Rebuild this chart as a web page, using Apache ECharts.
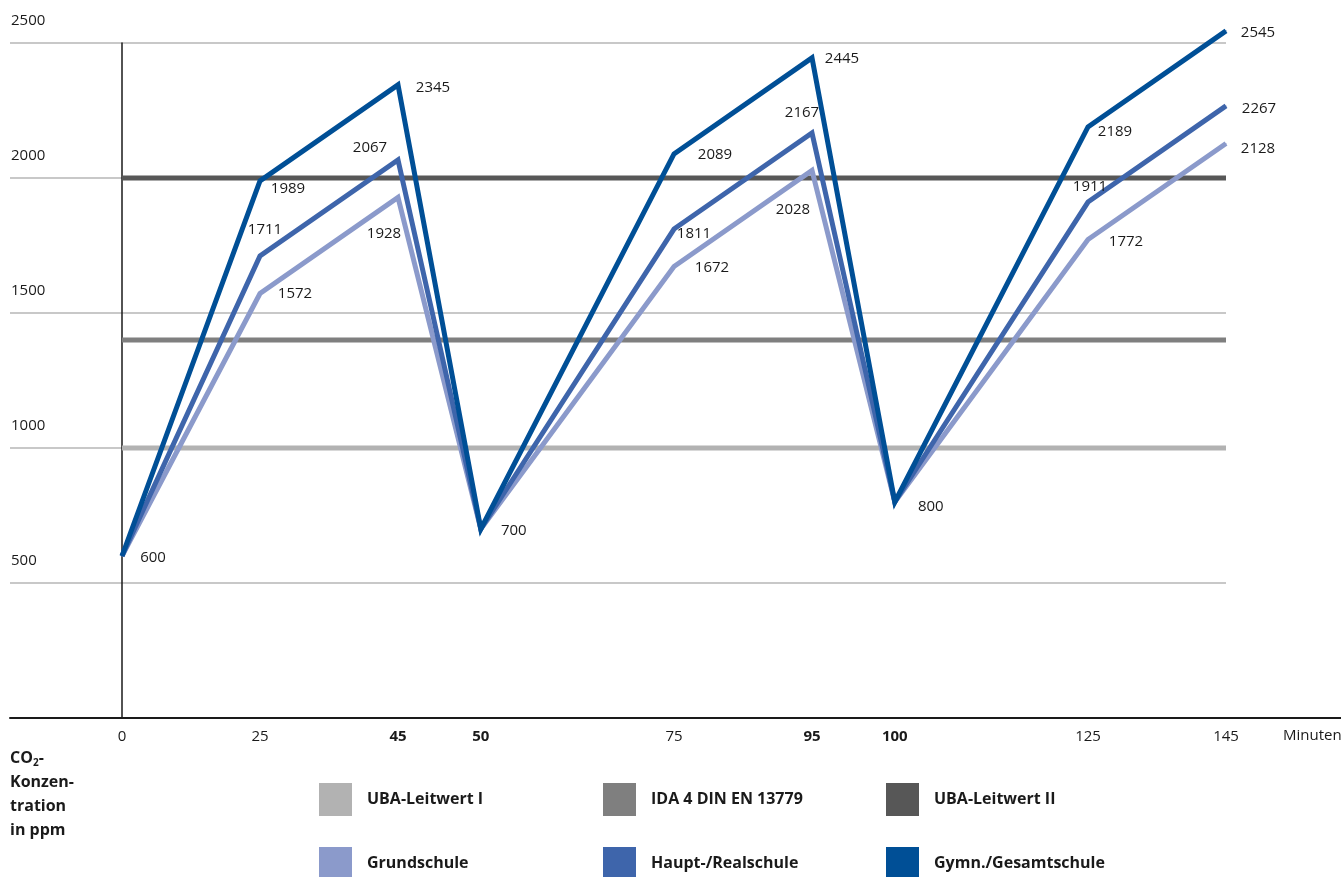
<!DOCTYPE html>
<html>
<head>
<meta charset="utf-8">
<script src="https://cdn.jsdelivr.net/npm/echarts@6/dist/echarts.min.js"></script>
<style>
html,body{margin:0;padding:0;background:#fff;}
#chart{width:1341px;height:877px;}
</style>
</head>
<body>
<div id="chart"></div>
<script>
// ---------- DATA ----------
const minutes = [0, 25, 45, 50, 75, 95, 100, 125, 145];
const grundschule = [600, 1572, 1928, 700, 1672, 2028, 800, 1772, 2128];
const hauptReal = [600, 1711, 2067, 700, 1811, 2167, 800, 1911, 2267];
const gymnGesamt = [600, 1989, 2345, 700, 2089, 2445, 800, 2189, 2545];
const thresholdNames = ['UBA-Leitwert I', 'IDA 4 DIN EN 13779', 'UBA-Leitwert II'];
const thresholdValues = [1000, 1400, 2000];
const seriesNames = ['Grundschule', 'Haupt-/Realschule', 'Gymn./Gesamtschule'];
const boldMinutes = [45, 50, 95, 100];

// ---------- LAYOUT / STYLE ----------
const slotGaps = [5, 5, 3, 7, 5, 3, 7, 5];       // uneven spacing of the minute axis
const slots = [0];
slotGaps.forEach(g => slots.push(slots[slots.length - 1] + g));
const slotMax = slots[slots.length - 1];
const gridLeft = 10, gridRight = 115, yAxisX = 122;
const slotMin = -(yAxisX - gridLeft) / ((1341 - gridRight - yAxisX) / slotMax);

const FONT = 'Open Sans';
const thresholdColors = ['#b2b2b2', '#7f7f7f', '#575757'];
const seriesColors = ['#8b9acb', '#3e65ab', '#004f96'];
const labelOffsets = [
  [null, [35, 0], [-14, 36], null, [38, 1], [-19, 39], null, [38, 2], [32, 5]],
  [null, [5, -26], [-28, -12], null, [20, 5], [-10, -20], null, [2, -15], [33, 3]],
  [[31, 2], [28, 8], [35, 3], [33, 2], [41, 1], [30, 1], [36, 5], [27, 5], [32, 2]]
];
const seriesValues = [grundschule, hauptReal, gymnGesamt];

const series = [];
thresholdValues.forEach((v, i) => {
  series.push({
    name: thresholdNames[i], type: 'line', z: 2,
    symbol: 'none', silent: true,
    lineStyle: { color: thresholdColors[i], width: 5 },
    itemStyle: { color: thresholdColors[i] },
    data: [[slots[0], v], [slotMax, v]]
  });
});
seriesValues.forEach((vals, si) => {
  series.push({
    name: seriesNames[si], type: 'line', z: 3 + si, clip: false,
    symbol: 'circle', symbolSize: 1, showSymbol: true,
    lineStyle: { color: seriesColors[si], width: 5, join: 'miter', miterLimit: 20 },
    itemStyle: { color: seriesColors[si] },
    emphasis: { disabled: true },
    data: vals.map((v, i) => {
      const off = labelOffsets[si][i];
      return {
        value: [slots[i], v],
        label: off ? {
          show: true, position: 'inside', offset: off,
          formatter: String(v), color: '#1a1a1a', fontSize: 15, fontFamily: FONT
        } : { show: false }
      };
    })
  });
});

const legendItems = [
  { name: thresholdNames[0], left: 319, top: 783 },
  { name: thresholdNames[1], left: 603, top: 783 },
  { name: thresholdNames[2], left: 886, top: 783 },
  { name: seriesNames[0], left: 319, top: 847 },
  { name: seriesNames[1], left: 603, top: 847 },
  { name: seriesNames[2], left: 886, top: 847 }
];

const chart = echarts.init(document.getElementById('chart'));
chart.setOption({
  animation: false,
  backgroundColor: '#fff',
  grid: { left: gridLeft, right: gridRight, top: 43, bottom: 159, containLabel: false, outerBoundsMode: 'none' },
  xAxis: {
    type: 'value', min: slotMin, max: slotMax,
    axisLine: { show: true, onZero: false, lineStyle: { color: '#1a1a1a', width: 2 } },
    axisTick: { show: false },
    splitLine: { show: false },
    axisLabel: {
      customValues: slots, margin: 11,
      fontFamily: FONT, fontSize: 15, color: '#1a1a1a',
      formatter: function (val) {
        const idx = slots.findIndex(s => Math.abs(s - val) < 1e-6);
        if (idx < 0) return '';
        const m = minutes[idx];
        return boldMinutes.indexOf(m) >= 0 ? '{b|' + m + '}' : String(m);
      },
      rich: { b: { fontWeight: 'bold', fontFamily: FONT, fontSize: 15, color: '#1a1a1a' } }
    }
  },
  yAxis: {
    type: 'value', min: 0, max: 2500, interval: 500,
    axisLine: { show: true, onZero: true, lineStyle: { color: '#1a1a1a', width: 1.5 } },
    axisTick: { show: false },
    splitLine: { show: true, lineStyle: { color: '#c8c8c8', width: 2 } },
    axisLabel: {
      showMinLabel: false, margin: -1, align: 'left', verticalAlign: 'bottom',
      lineHeight: 44,
      formatter: v => String(v),
      fontFamily: FONT, fontSize: 15, color: '#1a1a1a'
    }
  },
  legend: legendItems.map(it => ({
    data: [it.name], left: it.left, top: it.top, orient: 'horizontal',
    icon: 'rect', itemWidth: 33, itemHeight: 33, padding: 0,
    selectedMode: false,
    textStyle: { fontFamily: FONT, fontSize: 16, fontWeight: 'bold', color: '#1a1a1a', padding: [0, 0, 0, 10] }
  })),
  graphic: [
    {
      type: 'line', silent: true, z: 10,
      shape: { x1: 1341 - gridRight, y1: 718, x2: 1341, y2: 718 },
      style: { stroke: '#1a1a1a', lineWidth: 2 }
    },
    {
      type: 'text', left: 1283, top: 728, silent: true,
      style: { text: 'Minuten', fontFamily: FONT, fontSize: 15, fill: '#1a1a1a' }
    },
    {
      type: 'text', left: 10, top: 750, silent: true,
      style: {
        text: '{b|CO}{s|2}{b|-}\n{b|Konzen-}\n{b|tration}\n{b|in ppm}',
        rich: {
          b: { fontFamily: FONT, fontSize: 16, fontWeight: 'bold', fill: '#1a1a1a', lineHeight: 24 },
          s: { fontFamily: FONT, fontSize: 10, fontWeight: 'bold', fill: '#1a1a1a', lineHeight: 24, verticalAlign: 'bottom', padding: [0, 0, 2, 0] }
        }
      }
    }
  ],
  series: series
});
</script>
</body>
</html>
